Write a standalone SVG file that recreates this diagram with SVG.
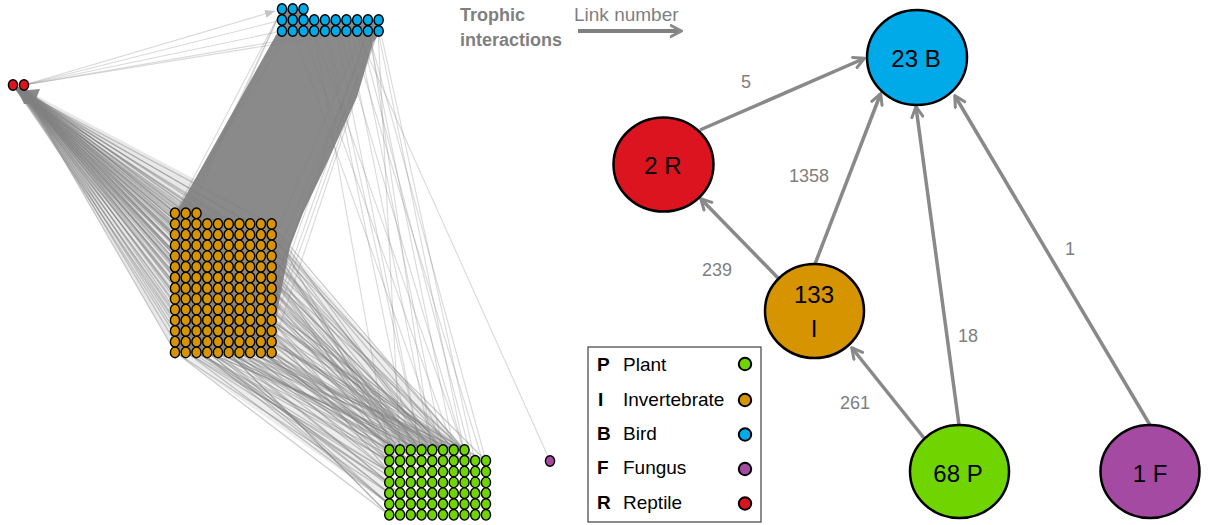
<svg xmlns="http://www.w3.org/2000/svg" width="1210" height="525" viewBox="0 0 1210 525">
<style>
.w path{fill:none;stroke:#808080;stroke-opacity:.3;stroke-width:1.1}
.w.d path{stroke-opacity:.42;stroke-width:1.2}
.big{stroke:#000;stroke-width:2.5}
.nl{font-family:"Liberation Sans",Arial,sans-serif;font-size:24px;fill:#000;text-anchor:middle}
.el{font-family:"Liberation Sans",Arial,sans-serif;font-size:18px;fill:#7f7f7f;text-anchor:middle}
.ed{fill:none;stroke:#898989;stroke-width:3.5;marker-end:url(#chev)}
.lg{font-family:"Liberation Sans",Arial,sans-serif;font-size:19px;fill:#000}
.lgb{font-weight:bold}
.lc{stroke:#000;stroke-width:2}
.ti{font-family:"Liberation Sans",Arial,sans-serif;fill:#7f7f7f}
</style>
<defs>
<marker id="chev" viewBox="0 0 14 14" refX="11.5" refY="7" markerWidth="14" markerHeight="14" markerUnits="userSpaceOnUse" orient="auto">
<path d="M1.5,1.5L12,7L1.5,12.5" fill="none" stroke="#898989" stroke-width="3" stroke-linecap="round" stroke-linejoin="round"/>
</marker>
<marker id="tri" viewBox="0 0 10 8" refX="10" refY="4" markerWidth="10" markerHeight="8" markerUnits="userSpaceOnUse" orient="auto">
<path d="M0,0L10,4L0,8z" fill="#c4c4c4"/>
</marker>
<g id="r3" stroke="#000" stroke-width="1.4"><ellipse cx="0" rx="4.6" ry="5.3"/><ellipse cx="10.74" rx="4.6" ry="5.3"/><ellipse cx="21.48" rx="4.6" ry="5.3"/></g>
<g id="r8" stroke="#000" stroke-width="1.4"><use href="#r3"/><ellipse cx="32.22" rx="4.6" ry="5.3"/><ellipse cx="42.96" rx="4.6" ry="5.3"/><ellipse cx="53.7" rx="4.6" ry="5.3"/><ellipse cx="64.44" rx="4.6" ry="5.3"/><ellipse cx="75.18" rx="4.6" ry="5.3"/></g>
<g id="r10" stroke="#000" stroke-width="1.4"><use href="#r8"/><ellipse cx="85.92" rx="4.6" ry="5.3"/><ellipse cx="96.66" rx="4.6" ry="5.3"/></g>
</defs>

<g id="web-links">
<path d="M22 88L200 182L175 213L175 352Z" fill="#808080" fill-opacity=".18"/>
<path d="M271 228L464 450L389 450L389 505L180 356L271 356Z" fill="#808080" fill-opacity=".14"/>
<path d="M176 213L280 28L282 9L303 9L310 20L378 20L378 36L373 42L357 97L327 163L303 213L290 247L280 297L272 340L272 353L176 353Z" fill="#8a8a8a"/>
<path d="M18 91L40 89L34 104L24 104Z" fill="#8a8a8a"/>
<g class="w d">
<path d="M22 88L175 213"/><path d="M15 88L186 213"/><path d="M22 88L196 213"/>
<path d="M22 88L175 224"/><path d="M15 88L196 224"/><path d="M22 88L228 224"/><path d="M15 88L271 224"/>
<path d="M22 88L175 235"/><path d="M15 88L196 235"/><path d="M22 88L228 235"/><path d="M15 88L271 235"/>
<path d="M22 88L175 245"/><path d="M15 88L196 245"/><path d="M22 88L228 245"/><path d="M15 88L271 245"/>
<path d="M22 88L175 256"/><path d="M15 88L196 256"/><path d="M22 88L228 256"/><path d="M15 88L271 256"/>
<path d="M22 88L175 267"/><path d="M15 88L196 267"/><path d="M22 88L228 267"/><path d="M15 88L271 267"/>
<path d="M22 88L175 278"/><path d="M15 88L196 278"/><path d="M22 88L228 278"/><path d="M15 88L271 278"/>
<path d="M22 88L175 288"/><path d="M15 88L196 288"/><path d="M22 88L228 288"/><path d="M15 88L271 288"/>
<path d="M22 88L175 299"/><path d="M15 88L196 299"/><path d="M22 88L228 299"/><path d="M15 88L271 299"/>
<path d="M22 88L175 310"/><path d="M15 88L196 310"/><path d="M22 88L228 310"/><path d="M15 88L271 310"/>
<path d="M22 88L175 320"/><path d="M15 88L196 320"/><path d="M22 88L228 320"/><path d="M15 88L271 320"/>
<path d="M22 88L175 331"/><path d="M15 88L196 331"/><path d="M22 88L228 331"/><path d="M15 88L271 331"/>
<path d="M22 88L175 342"/><path d="M15 88L196 342"/><path d="M22 88L228 342"/><path d="M15 88L271 342"/>
<path d="M22 88L175 352"/><path d="M15 88L196 352"/><path d="M22 88L228 352"/><path d="M15 88L271 352"/>
<path d="M18 88L186 224"/><path d="M18 88L218 224"/><path d="M18 88L250 224"/>
<path d="M18 88L186 235"/><path d="M18 88L218 235"/><path d="M18 88L250 235"/>
<path d="M18 88L186 245"/><path d="M18 88L218 245"/><path d="M18 88L250 245"/>
<path d="M18 88L186 256"/><path d="M18 88L218 256"/><path d="M18 88L250 256"/>
<path d="M18 88L186 267"/><path d="M18 88L218 267"/><path d="M18 88L250 267"/>
<path d="M18 88L186 278"/><path d="M18 88L218 278"/><path d="M18 88L250 278"/>
<path d="M18 88L186 288"/><path d="M18 88L218 288"/><path d="M18 88L250 288"/>
<path d="M18 88L186 299"/><path d="M18 88L218 299"/><path d="M18 88L250 299"/>
<path d="M18 88L186 310"/><path d="M18 88L218 310"/><path d="M18 88L250 310"/>
<path d="M18 88L186 320"/><path d="M18 88L218 320"/><path d="M18 88L250 320"/>
<path d="M18 88L186 331"/><path d="M18 88L218 331"/><path d="M18 88L250 331"/>
<path d="M18 88L186 342"/><path d="M18 88L218 342"/><path d="M18 88L250 342"/>
<path d="M18 88L186 352"/><path d="M18 88L218 352"/><path d="M18 88L250 352"/>

<path d="M464 450L271 224"/><path d="M454 450L271 235"/><path d="M443 450L271 245"/><path d="M432 450L271 256"/>
<path d="M421 450L271 267"/><path d="M411 450L271 278"/><path d="M400 450L271 288"/><path d="M389 450L271 299"/>
<path d="M464 450L271 310"/><path d="M443 450L271 320"/><path d="M421 450L271 331"/><path d="M400 450L271 342"/>
<path d="M389 461L271 352"/>
<path d="M389 493L175 352"/><path d="M389 483L186 352"/><path d="M389 472L196 352"/><path d="M389 461L207 352"/>
<path d="M400 450L218 352"/><path d="M411 450L228 352"/><path d="M421 450L239 352"/><path d="M432 450L250 352"/>
<path d="M443 450L260 352"/><path d="M389 515L175 352"/><path d="M389 504L186 352"/><path d="M400 461L196 352"/>
<path d="M411 461L207 352"/><path d="M389 450L218 352"/><path d="M454 450L228 352"/><path d="M464 450L239 352"/>
<path d="M389 472L250 352"/><path d="M400 450L260 352"/>
<path d="M432 450L271 224"/><path d="M475 461L271 235"/><path d="M486 461L271 245"/><path d="M454 450L271 256"/>
<path d="M464 450L271 267"/><path d="M443 450L271 278"/><path d="M432 450L271 288"/><path d="M421 450L271 299"/>
<path d="M411 450L271 310"/><path d="M389 461L271 320"/><path d="M389 472L271 331"/><path d="M454 450L271 342"/>
<path d="M432 450L271 352"/>
<path d="M443 450L260 331"/><path d="M421 450L250 320"/><path d="M400 450L239 342"/><path d="M389 461L228 331"/>
<path d="M389 483L218 342"/><path d="M389 472L207 331"/><path d="M389 504L196 342"/><path d="M389 493L186 331"/>
<path d="M454 450L260 299"/><path d="M464 450L250 310"/><path d="M411 450L239 320"/><path d="M432 450L228 310"/>
<path d="M443 450L260 267"/><path d="M464 450L250 256"/><path d="M400 450L239 288"/><path d="M421 450L228 278"/>
<path d="M411 461L218 320"/><path d="M400 461L207 310"/><path d="M389 450L196 320"/><path d="M389 515L186 310"/>
<path d="M389 504L175 331"/><path d="M389 483L175 310"/>
<path d="M411 450L260 352"/><path d="M454 450L250 352"/><path d="M443 450L239 352"/><path d="M400 450L228 352"/>
<path d="M421 450L218 352"/><path d="M432 450L207 352"/><path d="M389 461L196 352"/><path d="M389 472L186 352"/>
<path d="M464 450L271 331"/><path d="M454 450L271 320"/><path d="M432 450L271 310"/><path d="M443 450L271 299"/>
<path d="M411 450L271 288"/><path d="M400 450L271 278"/><path d="M389 450L271 267"/><path d="M421 450L271 256"/>
<path d="M411 450L271 245"/><path d="M421 450L271 352"/><path d="M443 450L271 342"/><path d="M432 450L271 235"/>
<path d="M400 461L271 224"/><path d="M411 461L271 245"/><path d="M421 461L271 267"/><path d="M432 461L271 288"/>
<path d="M443 461L271 310"/><path d="M454 461L271 331"/><path d="M464 461L271 352"/><path d="M475 461L260 352"/>
<path d="M486 461L250 352"/><path d="M400 461L239 352"/><path d="M421 461L228 352"/><path d="M443 461L218 352"/>
<path d="M464 461L207 352"/><path d="M389 483L196 352"/><path d="M389 493L207 352"/><path d="M389 504L218 352"/>
<path d="M389 515L228 352"/><path d="M400 472L239 352"/><path d="M400 483L175 342"/><path d="M400 493L186 342"/>
<path d="M411 472L260 320"/><path d="M421 472L250 331"/><path d="M432 472L271 299"/><path d="M443 472L271 278"/>
<path d="M454 461L271 256"/><path d="M464 461L260 288"/><path d="M475 461L271 320"/><path d="M486 461L271 342"/>
<path d="M411 461L250 342"/><path d="M421 461L239 331"/>
</g>
<g class="w">
<path d="M271 352L378 31"/><path d="M271 331L378 31"/><path d="M271 310L368 31"/><path d="M260 352L378 20"/>
<path d="M271 288L378 31"/><path d="M271 267L378 20"/><path d="M250 352L368 31"/><path d="M271 245L368 20"/>
<path d="M175 213L282 9"/><path d="M186 213L282 9"/><path d="M175 224L293 9"/><path d="M175 213L303 9"/><path d="M175 245L282 9"/>

<path d="M464 450L378 31"/><path d="M454 450L368 31"/><path d="M443 450L357 31"/><path d="M432 450L347 31"/>
<path d="M475 461L378 20"/><path d="M486 461L368 31"/><path d="M421 450L336 31"/><path d="M411 450L325 31"/>
<path d="M464 450L314 31"/><path d="M454 450L303 31"/><path d="M443 450L293 31"/><path d="M475 472L357 20"/>
<path d="M486 472L347 20"/><path d="M400 450L378 31"/><path d="M432 450L368 20"/><path d="M421 450L325 20"/>
<path d="M389 450L314 31"/><path d="M464 450L336 20"/>
<path d="M550 461L357 31"/>
<path d="M24 85L275 11" marker-end="url(#tri)"/><path d="M24 85L282 20"/><path d="M24 85L282 31"/><path d="M24 85L336 31"/><path d="M24 85L357 31"/>
</g>
</g>

<g id="web-nodes">
<g id="web-birds" fill="#00a9e8">
<use href="#r3" x="282" y="9"/><use href="#r10" x="282" y="20"/><use href="#r10" x="282" y="31"/>
</g>
<g id="web-invertebrates" fill="#d69400">
<use href="#r3" x="175" y="213.3"/>
<use href="#r10" x="175" y="224"/><use href="#r10" x="175" y="234.7"/><use href="#r10" x="175" y="245.4"/><use href="#r10" x="175" y="256.1"/>
<use href="#r10" x="175" y="266.8"/><use href="#r10" x="175" y="277.5"/><use href="#r10" x="175" y="288.2"/><use href="#r10" x="175" y="298.9"/>
<use href="#r10" x="175" y="309.6"/><use href="#r10" x="175" y="320.3"/><use href="#r10" x="175" y="331"/><use href="#r10" x="175" y="341.7"/>
<use href="#r10" x="175" y="352.4"/>
</g>
<g id="web-plants" fill="#6fd400">
<use href="#r8" x="389.3" y="450"/>
<use href="#r10" x="389.3" y="460.8"/><use href="#r10" x="389.3" y="471.6"/><use href="#r10" x="389.3" y="482.4"/>
<use href="#r10" x="389.3" y="493.2"/><use href="#r10" x="389.3" y="504"/><use href="#r10" x="389.3" y="514.8"/>
</g>
<g id="web-reptiles" fill="#dc1420" stroke="#000" stroke-width="1.4">
<ellipse cx="13" cy="85" rx="4.6" ry="5.3"/><ellipse cx="24" cy="85" rx="4.6" ry="5.3"/>
</g>
<g id="web-fungus" fill="#a54aa3" stroke="#000" stroke-width="1.4">
<ellipse cx="550" cy="461" rx="4.6" ry="5.3"/>
</g>
</g>

<g id="key">
<text class="ti" x="460" y="21" font-size="18" font-weight="bold">Trophic</text>
<text class="ti" x="460" y="46" font-size="18" font-weight="bold">interactions</text>
<text class="ti" x="574" y="21" font-size="19">Link number</text>
<path d="M578 31L681 31" stroke="#808080" stroke-width="4" fill="none" marker-end="url(#chev)"/>
</g>

<g id="connectors">
<path class="ed" d="M700 130L864 58.5"/>
<path class="ed" d="M815 264L880.5 94"/>
<path class="ed" d="M959 425L916 107"/>
<path class="ed" d="M1150 425L955 96"/>
<path class="ed" d="M778 278L701 199"/>
<path class="ed" d="M924 438L852 348"/>
<text class="el" x="746" y="88">5</text>
<text class="el" x="809" y="182">1358</text>
<text class="el" x="717" y="276">239</text>
<text class="el" x="968" y="342">18</text>
<text class="el" x="1070" y="255">1</text>
<text class="el" x="855" y="409">261</text>
</g>

<g id="node-bird"><ellipse class="big" cx="917" cy="57.5" rx="50" ry="47.5" fill="#00a9e8"/><text class="nl" x="916" y="67">23 B</text></g>
<g id="node-reptile"><ellipse class="big" cx="663.5" cy="164.5" rx="50" ry="47" fill="#dc1420"/><text class="nl" x="663" y="174">2 R</text></g>
<g id="node-invertebrate"><ellipse class="big" cx="814.5" cy="311" rx="49.5" ry="47" fill="#d69400"/><text class="nl" x="814" y="303">133</text><text class="nl" x="814" y="337">I</text></g>
<g id="node-plant"><ellipse class="big" cx="959.5" cy="471.5" rx="49.5" ry="46.5" fill="#6fd400"/><text class="nl" x="958" y="482">68 P</text></g>
<g id="node-fungus"><ellipse class="big" cx="1150" cy="471.5" rx="49.5" ry="46.5" fill="#a54aa3"/><text class="nl" x="1150" y="482">1 F</text></g>

<g id="legend">
<rect x="588" y="347" width="173" height="175" fill="#fff" stroke="#404040" stroke-width="1.2"/>
<text class="lg lgb" x="597" y="371">P</text><text class="lg" x="623" y="371">Plant</text><circle class="lc" cx="745" cy="364" r="6.2" fill="#6fd400"/>
<text class="lg lgb" x="598" y="406">I</text><text class="lg" x="623" y="406">Invertebrate</text><circle class="lc" cx="745" cy="400" r="6.2" fill="#d69400"/>
<text class="lg lgb" x="597" y="440">B</text><text class="lg" x="623" y="440">Bird</text><circle class="lc" cx="745" cy="434.5" r="6.2" fill="#00a9e8"/>
<text class="lg lgb" x="597" y="474">F</text><text class="lg" x="623" y="474">Fungus</text><circle class="lc" cx="745" cy="469" r="6.2" fill="#a54aa3"/>
<text class="lg lgb" x="597" y="509">R</text><text class="lg" x="623" y="509">Reptile</text><circle class="lc" cx="745" cy="503.5" r="6.2" fill="#dc1420"/>
</g>
</svg>
